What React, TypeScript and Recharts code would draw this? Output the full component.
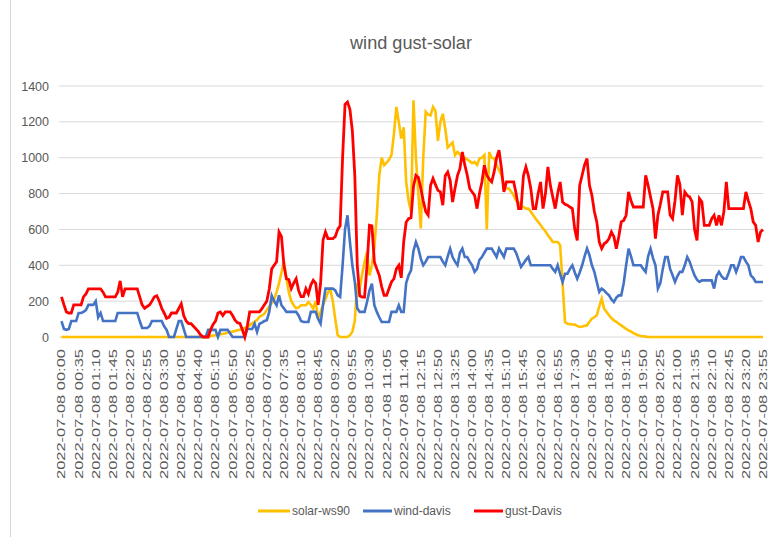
import React from 'react';
import { LineChart, Line, XAxis, YAxis, CartesianGrid } from 'recharts';

const TITLE = 'wind gust-solar';
const DATE = '2022-07-08';
const Y_TICKS = [0, 200, 400, 600, 800, 1000, 1200, 1400];
const SERIES_NAMES = ['solar-ws90', 'wind-davis', 'gust-Davis'];
const SERIES_COLORS = ['#FFC000', '#4472C4', '#FF0000'];

// 5-minute readings, one row per hour
const SOLAR_WS90 = [
  0, 0, 0, 0, 0, 0, 0, 0, 0, 0, 0, 0,
  0, 0, 0, 0, 0, 0, 0, 0, 0, 0, 0, 0,
  0, 0, 0, 0, 0, 0, 0, 0, 0, 0, 0, 0,
  0, 0, 0, 0, 0, 0, 0, 0, 0, 0, 0, 0,
  0, 0, 0, 0, 0, 0, 0, 0, 0, 0, 0, 0,
  0, 5, 8, 10, 12, 15, 18, 20, 25, 28, 30, 34,
  38, 40, 45, 50, 55, 65, 76, 85, 95, 113, 120, 130,
  150, 170, 190, 210, 250, 300, 360, 420, 330, 250, 200, 177,
  160, 165, 177, 177, 177, 195, 180, 158, 200, 100, 140, 180,
  210, 250, 264, 200, 100, 10, 0, 0, 0, 0, 10, 30,
  90, 300, 270, 350, 418, 474, 344, 400, 500, 679, 900, 1000,
  958, 972, 990, 1014, 1132, 1283, 1200, 1107, 1170, 868, 760, 700,
  1320, 1000, 800, 605, 1000, 1256, 1240, 1236, 1283, 1260, 1094, 1200,
  1245, 1163, 1057, 1070, 1085, 1014, 1032, 1019, 995, 1000, 990, 981,
  970, 977, 960, 995, 1000, 1014, 600, 1032, 1000, 995, 960, 930,
  902, 846, 828, 828, 810, 790, 760, 750, 735, 725, 716, 716,
  700, 679, 660, 642, 625, 605, 590, 567, 550, 530, 530, 530,
  512, 300, 84, 74, 72, 70, 69, 62, 56, 58, 62, 65,
  85, 102, 110, 121, 170, 214, 158, 140, 121, 105, 93, 85,
  74, 65, 55, 45, 37, 30, 22, 15, 10, 6, 4, 2,
  0, 0, 0, 0, 0, 0, 0, 0, 0, 0, 0, 0,
  0, 0, 0, 0, 0, 0, 0, 0, 0, 0, 0, 0,
  0, 0, 0, 0, 0, 0, 0, 0, 0, 0, 0, 0,
  0, 0, 0, 0, 0, 0, 0, 0, 0, 0, 0, 0,
];

const WIND_DAVIS = [
  89, 45, 40, 45, 89, 89, 89, 134, 134, 140, 150, 179,
  179, 179, 200, 110, 134, 89, 89, 89, 89, 89, 89, 134,
  134, 134, 134, 134, 134, 134, 134, 134, 89, 50, 50, 50,
  60, 89, 89, 89, 89, 89, 60, 40, 0, 0, 0, 45,
  89, 89, 45, 0, 0, 0, 0, 0, 0, 0, 0, 0,
  40, 40, 40, 40, 0, 40, 40, 40, 40, 20, 0, 0,
  0, 0, 0, 0, 45, 45, 45, 74, 28, 74, 80, 89,
  93, 140, 232, 200, 177, 232, 177, 160, 140, 140, 140, 140,
  140, 120, 89, 84, 84, 84, 140, 140, 140, 100, 74, 180,
  270, 270, 270, 270, 260, 232, 223, 400, 600, 679, 530, 400,
  307, 160, 140, 140, 140, 195, 260, 298, 177, 140, 110, 84,
  84, 84, 84, 140, 140, 140, 177, 140, 140, 300, 344, 372,
  480, 530, 493, 437, 400, 420, 446, 446, 446, 446, 446, 446,
  420, 400, 450, 493, 446, 420, 400, 470, 493, 446, 446, 420,
  400, 363, 380, 430, 446, 470, 493, 493, 493, 470, 446, 493,
  470, 446, 493, 493, 493, 493, 470, 430, 391, 410, 430, 446,
  400, 400, 400, 400, 400, 400, 400, 400, 400, 380, 363, 400,
  350, 307, 353, 353, 380, 400, 360, 325, 360, 400, 450, 493,
  456, 400, 363, 307, 251, 270, 260, 245, 232, 210, 195, 220,
  232, 232, 300, 400, 493, 450, 400, 400, 400, 400, 380, 363,
  450, 493, 440, 400, 270, 300, 380, 446, 446, 380, 344, 307,
  340, 363, 363, 400, 446, 420, 380, 344, 320, 307, 316, 316,
  316, 316, 316, 270, 340, 363, 340, 325, 325, 360, 400, 400,
  363, 400, 446, 446, 420, 400, 344, 330, 307, 307, 307, 307,
];

const GUST_DAVIS = [
  224, 180, 140, 134, 134, 179, 179, 179, 179, 224, 240, 268,
  268, 268, 268, 268, 268, 250, 224, 224, 224, 224, 224, 250,
  313, 224, 268, 268, 268, 268, 268, 268, 224, 179, 160, 170,
  179, 200, 224, 230, 200, 160, 134, 104, 110, 134, 134, 134,
  160, 185, 120, 89, 75, 75, 60, 45, 30, 10, 0, 0,
  0, 40, 70, 89, 134, 140, 120, 140, 140, 140, 120, 94,
  80, 76, 40, 0, 60, 140, 140, 140, 140, 140, 158, 180,
  200, 268, 380, 400, 420, 586, 560, 400, 325, 320, 270, 300,
  325, 260, 225, 225, 270, 240, 290, 316, 300, 180, 300, 540,
  586, 549, 549, 549, 560, 600, 620, 1000, 1297, 1310, 1270, 1150,
  900, 400, 230, 223, 223, 400, 623, 620, 418, 380, 344, 280,
  232, 232, 270, 307, 325, 380, 400, 330, 530, 640, 660, 665,
  840, 902, 890, 830, 760, 700, 680, 846, 884, 850, 818, 810,
  735, 900, 920, 874, 753, 830, 900, 939, 1032, 960, 902, 828,
  809, 790, 716, 800, 865, 958, 902, 880, 865, 921, 1000, 1042,
  940, 809, 865, 865, 865, 865, 800, 716, 716, 900, 949, 900,
  828, 716, 716, 800, 865, 716, 800, 949, 846, 780, 716, 800,
  865, 753, 740, 735, 725, 716, 600, 539, 846, 902, 960, 995,
  846, 790, 700, 642, 530, 493, 520, 530, 549, 586, 560, 493,
  560, 642, 650, 679, 809, 760, 725, 725, 725, 725, 725, 902,
  846, 780, 716, 549, 679, 740, 809, 809, 809, 680, 660, 760,
  902, 850, 680, 809, 790, 781, 753, 600, 539, 772, 753, 623,
  623, 623, 660, 679, 623, 679, 623, 700, 865, 716, 716, 716,
  716, 716, 716, 716, 809, 760, 716, 642, 623, 530, 586, 600,
];

const pad2 = (n: number) => String(n).padStart(2, '0');
const CATEGORIES = SOLAR_WS90.map(
  (_, i) => `${DATE} ${pad2(Math.floor((i * 5) / 60))}:${pad2((i * 5) % 60)}`
);

const data = CATEGORIES.map((t, i) => ({
  t,
  solar: SOLAR_WS90[i],
  wind: WIND_DAVIS[i],
  gust: GUST_DAVIS[i],
}));

const FONT = '"Liberation Sans", Arial, sans-serif';
const TEXT_COLOR = '#595959';

const XTick = (props: any) => {
  const { x, y, payload } = props;
  return (
    <text
      transform={`translate(${x},${y}) rotate(-90)`}
      textAnchor="end"
      dy="0.36em"
      fontSize={11}
      fill={TEXT_COLOR}
      fontFamily={FONT}
      textLength={130}
      lengthAdjust="spacingAndGlyphs"
    >
      {payload.value}
    </text>
  );
};

const YTick = (props: any) => {
  const { x, y, payload } = props;
  return (
    <text x={x} y={y} dy="0.36em" textAnchor="end" fontSize={12.5} fill={TEXT_COLOR} fontFamily={FONT}>
      {payload.value}
    </text>
  );
};

const LEGEND_ITEMS = [
  { name: SERIES_NAMES[0], color: SERIES_COLORS[0], x1: 258, x2: 290 },
  { name: SERIES_NAMES[1], color: SERIES_COLORS[1], x1: 363, x2: 392 },
  { name: SERIES_NAMES[2], color: SERIES_COLORS[2], x1: 474, x2: 503 },
];

export default function App() {
  return (
    <div
      style={{
        position: 'absolute',
        left: 0,
        top: 0,
        width: 769,
        height: 537,
        background: '#ffffff',
        overflow: 'hidden',
      }}
    >
      <div style={{ position: 'absolute', left: 10, top: 0, width: 1, height: 537, background: '#d6d6d6' }} />
      <LineChart
        width={769}
        height={537}
        data={data}
        margin={{ top: 86, right: 6, left: 0, bottom: 0 }}
      >
        <CartesianGrid vertical={false} stroke="#d9d9d9" strokeWidth={1} />
        <XAxis
          dataKey="t"
          interval={6}
          height={200}
          tickSize={0}
          tickMargin={12}
          axisLine={false}
          tickLine={false}
          padding={{ left: 2.5, right: 0 }}
          tick={<XTick />}
        />
        <YAxis
          width={59}
          domain={[0, 1400]}
          ticks={Y_TICKS}
          tickSize={0}
          tickMargin={10}
          axisLine={false}
          tickLine={false}
          tick={<YTick />}
        />
        <Line
          type="linear"
          dataKey="solar"
          name={SERIES_NAMES[0]}
          stroke={SERIES_COLORS[0]}
          strokeWidth={2.6}
          dot={false}
          activeDot={false}
          isAnimationActive={false}
        />
        <Line
          type="linear"
          dataKey="wind"
          name={SERIES_NAMES[1]}
          stroke={SERIES_COLORS[1]}
          strokeWidth={2.6}
          dot={false}
          activeDot={false}
          isAnimationActive={false}
        />
        <Line
          type="linear"
          dataKey="gust"
          name={SERIES_NAMES[2]}
          stroke={SERIES_COLORS[2]}
          strokeWidth={2.8}
          dot={false}
          activeDot={false}
          isAnimationActive={false}
        />
      </LineChart>
      <svg
        width={769}
        height={537}
        style={{ position: 'absolute', left: 0, top: 0, pointerEvents: 'none' }}
      >
        <text
          x={411}
          y={49}
          textAnchor="middle"
          fontSize={19}
          fill={TEXT_COLOR}
          fontFamily={FONT}
          textLength={122}
          lengthAdjust="spacingAndGlyphs"
        >
          {TITLE}
        </text>
        {LEGEND_ITEMS.map((it) => (
          <g key={it.name}>
            <line x1={it.x1} y1={511} x2={it.x2} y2={511} stroke={it.color} strokeWidth={3} />
            <text x={it.x2 + 2} y={515} fontSize={12} fill={TEXT_COLOR} fontFamily={FONT}>
              {it.name}
            </text>
          </g>
        ))}
      </svg>
    </div>
  );
}
